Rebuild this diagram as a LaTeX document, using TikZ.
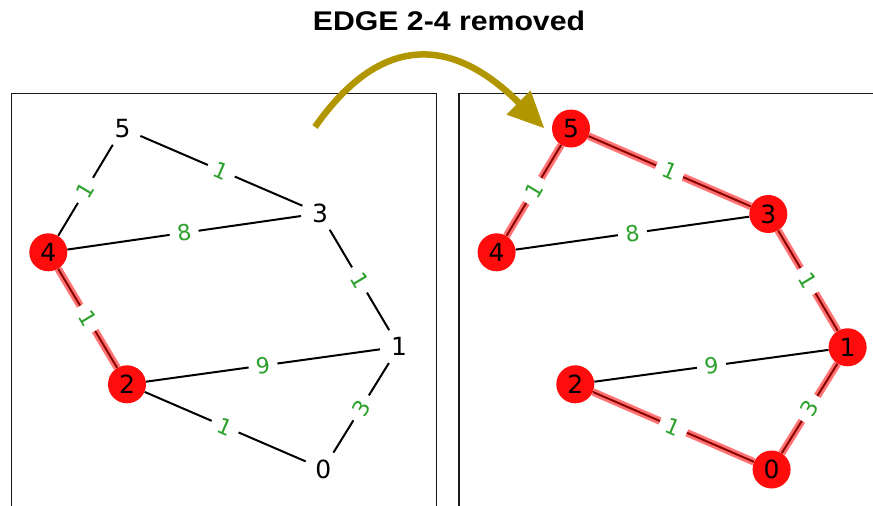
\documentclass[tikz,border=0pt]{standalone}
\usepackage{fontspec}
\setmainfont{DejaVu Sans}
\newfontfamily\titlefont{Liberation Sans}
\usetikzlibrary{arrows.meta}
\pgfdeclarelayer{bg}
\pgfsetlayers{bg,main}
\definecolor{lblgreen}{RGB}{44,160,44}
\definecolor{arrowolive}{RGB}{178,150,0}
\definecolor{nodered}{RGB}{255,12,12}
\begin{document}
\begin{tikzpicture}[x=1pt,y=-1pt,
  vtx/.style={circle, minimum size=38pt, inner sep=0pt, font=\fontsize{25}{30}\selectfont},
  hot/.style={vtx, fill=nodered},
  edgeline/.style={line width=2pt, black},
  band/.style={line width=7.5pt, red, opacity=0.55},
  wlbl/.style={midway, sloped, fill=white, text=lblgreen, inner xsep=7.5pt, inner ysep=2pt, font=\fontsize{22}{26}\selectfont},
  panel/.style={line width=1.5pt, black!90},
  bigarrow/.style={line width=6.5pt, arrowolive, -{Triangle[length=36pt,width=34pt,line width'=0.5pt]}}]
\useasboundingbox (0,0) rectangle (873,506);
\clip (0,0) rectangle (873,506);
% panels
\draw[panel] (11.5,520) -- (11.5,93.5) -- (436.5,93.5) -- (436.5,520);
\draw[panel] (459,520) -- (459,93.5) -- (890,93.5);
% title
\node[font=\titlefont\bfseries\fontsize{27}{32}\selectfont] (title) at (449,21) {\scalebox{1.12}[1]{EDGE 2-4 removed}};
% left graph
\node[vtx] (L5) at (122.7,128.3) {5};
\node[vtx] (L3) at (320,213.3) {3};
\node[hot] (L4) at (48.3,252.3) {4};
\node[vtx] (L1) at (399,346.7) {1};
\node[hot] (L2) at (127,384.3) {2};
\node[vtx] (L0) at (323.3,469) {0};
% right graph
\node[hot] (R5) at (571,128.5) {5};
\node[hot] (R3) at (768.3,214) {3};
\node[hot] (R4) at (496.6,252.3) {4};
\node[hot] (R1) at (847.6,347.3) {1};
\node[hot] (R2) at (575.3,384.3) {2};
\node[hot] (R0) at (771.6,469.5) {0};
\begin{pgfonlayer}{bg}
\foreach \a/\b in {L5/L4, L5/L3, L4/L3, L3/L1, L4/L2, L2/L1, L2/L0, L1/L0,
                   R5/R4, R5/R3, R4/R3, R3/R1, R2/R1, R2/R0, R1/R0}
  \draw[edgeline] (\a) -- (\b);
\foreach \a/\b in {L4/L2, R5/R4, R5/R3, R3/R1, R2/R0, R1/R0}
  \draw[band] (\a) -- (\b);
\foreach \a/\b/\w in {L5/L4/1, L5/L3/1, L4/L3/8, L3/L1/1, L4/L2/1, L2/L1/9, L2/L0/1, L1/L0/3,
                      R5/R4/1, R5/R3/1, R4/R3/8, R3/R1/1, R2/R1/9, R2/R0/1, R1/R0/3}
  \path (\a) -- node[wlbl] {\w} (\b);
\end{pgfonlayer}
% arrow
\coordinate (As) at (315,127);
\coordinate (At) at (544,128);
\draw[bigarrow] (As) .. controls (385,27) and (457.7,41.7) .. (At);
\end{tikzpicture}
\end{document}
